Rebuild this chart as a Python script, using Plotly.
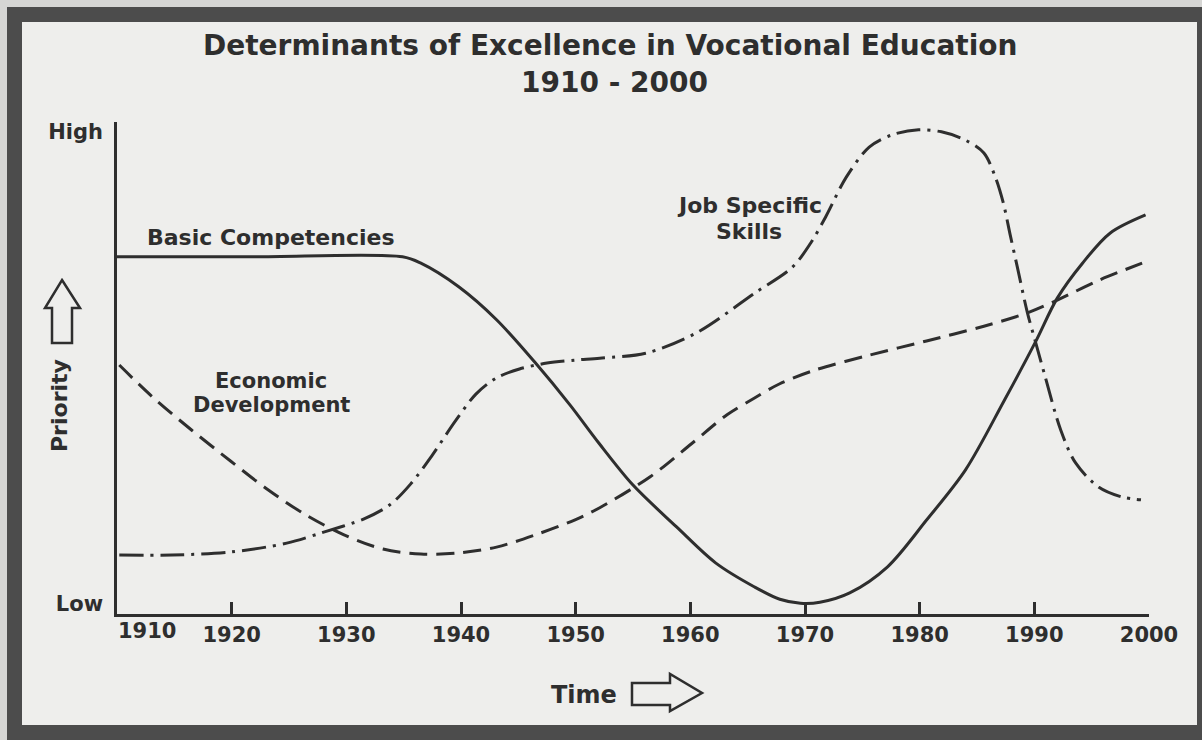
import plotly.graph_objects as go

# ---------------- data ----------------
basic_years = [1910, 1922.0, 1934.9, 1936.5, 1939.8, 1943.1, 1946.5, 1949.5, 1952.0, 1955.0, 1958.8,
               1962.2, 1965.6, 1967.8, 1969.6, 1971.3, 1973.9, 1977.2, 1980.6, 1984.0,
               1987.4, 1990.1, 1992.0, 1994.2, 1996.6, 1999.7]
basic_vals = [72.6, 72.6, 72.6, 71.3, 66.5, 59.8, 51.0, 42.5, 34.8, 26.2, 17.7,
              10.4, 5.5, 3.0, 2.2, 2.4, 4.3, 9.6, 19.1, 29.3,
              43.5, 55.3, 64.2, 71.3, 77.4, 81.1]

econ_years = [1910.2, 1913.1, 1916.5, 1919.9, 1923.2, 1926.5, 1929.8, 1933.2, 1936.5, 1939.8,
              1943.1, 1946.5, 1949.9, 1952.1, 1956.5, 1960.1, 1963.2, 1965.6, 1967.8, 1970.9,
              1975.6, 1980.6, 1985.6, 1989.4, 1992.0, 1995.7, 1999.4]
econ_vals = [50.6, 44.1, 37.4, 31.1, 25.2, 20.1, 16.1, 13.2, 12.2, 12.4,
             13.6, 16.1, 19.1, 21.6, 27.9, 34.6, 40.5, 43.9, 46.8, 49.6,
             52.6, 55.5, 58.5, 61.2, 63.8, 67.9, 71.3]

job_years = [1910.2, 1914.8, 1919.9, 1924.8, 1928.1, 1931.5, 1933.8, 1935.6, 1937.5, 1939.5,
             1941.3, 1943.1, 1945.1, 1947.5, 1949.9, 1952.1, 1956.1, 1960.5, 1965.6, 1968.9,
             1970.5, 1971.8, 1973.6, 1975.6, 1977.6, 1979.9, 1981.9, 1984.0, 1985.6, 1986.6,
             1987.3, 1987.9, 1988.5, 1989.4, 1990.1, 1990.9, 1992.3, 1993.6, 1995.6, 1997.6, 1999.3]
job_vals = [12.0, 12.0, 12.6, 14.4, 16.7, 19.3, 22.2, 26.4, 32.3, 39.2,
            44.7, 48.0, 49.8, 51.0, 51.6, 52.0, 53.0, 57.1, 65.2, 70.5,
            75.4, 80.7, 88.8, 94.9, 97.4, 98.4, 98.0, 96.3, 93.7, 88.8,
            83.5, 77.0, 70.7, 61.2, 55.3, 48.6, 37.4, 30.7, 25.8, 23.8, 23.2]

x_ticks = [1920, 1930, 1940, 1950, 1960, 1970, 1980, 1990, 2000]
x_tick_text = [str(v) for v in x_ticks]
first_year_label = "1910"
y_ticks = [2.2, 98.0]
y_tick_text = ["Low", "High"]

title_line1 = "Determinants of Excellence in Vocational Education"
title_line2 = "1910 - 2000"

# ---------------- layout helpers ----------------
W, H = 1202, 740
L, R, T, B = 117, 1149, 122, 614


def px(x, y):
    return (x - L) / (R - L), (B - y) / (B - T)


INK = "#2e2e2e"
FONT = "DejaVu Sans"
LW = 3
SMOOTH = 0.9

fig = go.Figure()
fig.add_trace(go.Scatter(x=basic_years, y=basic_vals, mode="lines", name="Basic Competencies",
                         line=dict(color=INK, width=LW, shape="spline", smoothing=SMOOTH),
                         hoverinfo="skip"))
fig.add_trace(go.Scatter(x=econ_years, y=econ_vals, mode="lines", name="Economic Development",
                         line=dict(color=INK, width=LW, dash="18px,9px", shape="spline", smoothing=SMOOTH),
                         hoverinfo="skip"))
fig.add_trace(go.Scatter(x=job_years, y=job_vals, mode="lines", name="Job Specific Skills",
                         line=dict(color=INK, width=LW, dash="24px,7px,3px,7px", shape="spline",
                                   smoothing=SMOOTH),
                         hoverinfo="skip"))

shapes = []
# light page inside the dark frame
x0, y0 = px(22, 725)
x1, y1 = px(1197, 22)
shapes.append(dict(type="rect", xref="paper", yref="paper", x0=x0, y0=y0, x1=x1, y1=y1,
                   fillcolor="#eeeeec", line=dict(width=0), layer="below"))
# outer light strips (left / top)
a0, b0 = px(-5, 760)
a1, b1 = px(7, -20)
shapes.append(dict(type="rect", xref="paper", yref="paper", x0=a0, y0=b0, x1=a1, y1=b1,
                   fillcolor="#d6d6d4", line=dict(width=0), layer="below"))
a0, b0 = px(-5, 7)
a1, b1 = px(1210, -20)
shapes.append(dict(type="rect", xref="paper", yref="paper", x0=a0, y0=b0, x1=a1, y1=b1,
                   fillcolor="#d6d6d4", line=dict(width=0), layer="below"))


def path(points):
    parts = []
    for i, (x, y) in enumerate(points):
        u, v = px(x, y)
        parts.append(("M" if i == 0 else "L") + f"{u:.5f},{v:.5f}")
    return " ".join(parts) + " Z"


# Priority arrow (up)
shapes.append(dict(type="path", xref="paper", yref="paper",
                   path=path([(62, 280), (80, 308), (72, 308), (72, 343), (52, 343), (52, 308), (45, 308)]),
                   line=dict(color=INK, width=2.5), fillcolor="rgba(0,0,0,0)"))
# Time arrow (right)
shapes.append(dict(type="path", xref="paper", yref="paper",
                   path=path([(632, 683), (670, 683), (670, 674), (702, 693), (670, 711), (670, 705), (632, 705)]),
                   line=dict(color=INK, width=2.5), fillcolor="rgba(0,0,0,0)"))

annotations = []


def label(text, x, y, size, anchor="center", bold=True, angle=0):
    u, v = px(x, y)
    annotations.append(dict(text=(f"<b>{text}</b>" if bold else text), x=u, y=v, xref="paper", yref="paper",
                            xanchor=anchor, yanchor="middle", showarrow=False, textangle=angle,
                            font=dict(family=FONT, size=size, color=INK)))


label(title_line1, 610, 45, 28)
label(title_line2, 614, 83, 28)
label("Basic Competencies", 145, 237, 22, anchor="left")
label("Economic", 271, 381, 21)
label("Development", 271, 405, 21)
label("Job Specific", 749, 205, 22)
label("Skills", 749, 231, 22)
label("Priority", 60, 406, 22, angle=-90)
label("Time", 584, 695, 24)
label(first_year_label, 147, 631, 21)

fig.update_layout(
    width=W, height=H, autosize=False,
    margin=dict(l=L, r=W - R, t=T, b=H - B, pad=0),
    paper_bgcolor="#4c4c4c", plot_bgcolor="rgba(0,0,0,0)",
    showlegend=False, shapes=shapes, annotations=annotations,
    xaxis=dict(range=[1910, 2000], tickvals=x_ticks, ticktext=x_tick_text, ticks="inside",
               ticklen=12, tickwidth=2.5, tickcolor=INK, showline=True, linecolor=INK, linewidth=2.5,
               showgrid=False, zeroline=False, ticklabelstandoff=0,
               tickfont=dict(family=FONT, size=21, color=INK, weight="bold")),
    yaxis=dict(range=[0, 100], tickvals=y_ticks, ticktext=y_tick_text, ticks="",
               showline=True, linecolor=INK, linewidth=2.5, showgrid=False, zeroline=False,
               ticklabelstandoff=7,
               tickfont=dict(family=FONT, size=21, color=INK, weight="bold")),
)

fig.write_html("out.html", config={"displayModeBar": False},
               post_script="document.body.style.margin='0';document.body.style.overflow='hidden';")
